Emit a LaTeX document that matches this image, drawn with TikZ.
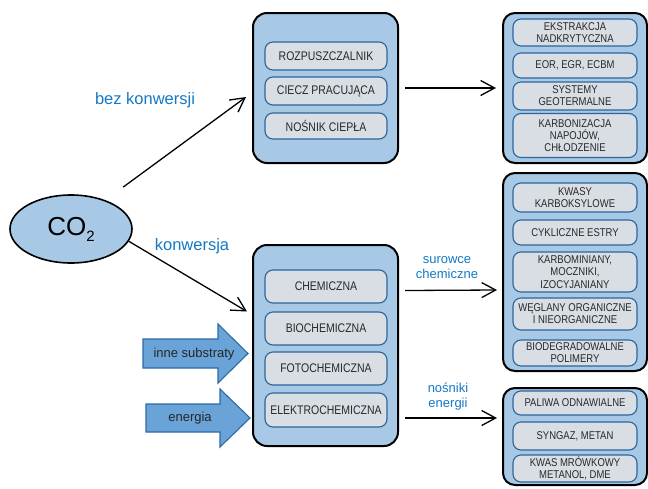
\documentclass[tikz,border=0pt]{standalone}
\usepackage{fontspec}
\setmainfont{Liberation Sans}
\newfontfamily\narrowfont[FakeStretch=0.84]{Liberation Sans}
\usetikzlibrary{arrows.meta,shapes.geometric,calc}
\definecolor{boxblue}{RGB}{167,201,229}
\definecolor{innergray}{RGB}{216,222,228}
\definecolor{innerborder}{RGB}{45,100,155}
\definecolor{txtgray}{RGB}{40,40,40}
\definecolor{lblblue}{RGB}{20,120,195}
\definecolor{arrowfill}{RGB}{105,163,216}
\definecolor{arrowborder}{RGB}{45,105,165}
\begin{document}
\begin{tikzpicture}[x=1pt,y=-1pt,
  outerbox/.style={draw=black, line width=2pt, rounded corners=14pt, fill=boxblue, inner sep=0pt},
  innerbox/.style={draw=innerborder, line width=1.1pt, rounded corners=8pt, fill=innergray, inner sep=0pt,
    text=txtgray, align=center},
  midtxt/.style={font=\narrowfont\fontsize{12.5}{13.5}\selectfont},
  righttxt/.style={font=\narrowfont\fontsize{11.3}{12.2}\selectfont},
  conn/.style={line width=1.3pt, -{Straight Barb[length=14pt,width=15pt,line width=1.3pt]}},
  biglbl/.style={text=lblblue, font=\fontsize{16.5}{18}\selectfont},
  smalllbl/.style={text=lblblue, font=\fontsize{13}{15}\selectfont, align=center},
  blockarrow/.style={draw=arrowborder, line width=1.1pt, fill=arrowfill},
  arrowtxt/.style={text=black!85, font=\fontsize{13}{15}\selectfont}
]
\useasboundingbox (0,0) rectangle (648,488);

% CO2
\node[ellipse, draw=black, line width=1.6pt, fill=boxblue, minimum width=122pt, minimum height=68pt, inner sep=0pt] (co2) at (71,229)
  {\fontsize{26}{26}\selectfont CO\raisebox{-6pt}{\fontsize{15}{15}\selectfont 2}};

% top middle box
\node[outerbox, minimum width=145pt, minimum height=150pt] (topbox) at (325.5,88) {};
\node[innerbox, midtxt, minimum width=122pt, minimum height=28pt] (rozp) at (326,56) {ROZPUSZCZALNIK};
\node[innerbox, midtxt, minimum width=122pt, minimum height=28pt] (ciecz) at (326,91) {CIECZ PRACUJĄCA};
\node[innerbox, midtxt, minimum width=122pt, minimum height=26pt] (nosnik) at (326,126) {NOŚNIK CIEPŁA};

% bottom middle box
\node[outerbox, minimum width=145pt, minimum height=201pt] (botbox) at (325.5,345.5) {};
\node[innerbox, midtxt, minimum width=122pt, minimum height=33pt] (chem) at (326,286.5) {CHEMICZNA};
\node[innerbox, midtxt, minimum width=122pt, minimum height=33pt] (biochem) at (326,328.5) {BIOCHEMICZNA};
\node[innerbox, midtxt, minimum width=122pt, minimum height=33pt] (fotochem) at (326,368.5) {FOTOCHEMICZNA};
\node[innerbox, midtxt, minimum width=122pt, minimum height=34pt] (elektro) at (326,410) {ELEKTROCHEMICZNA};

% top right box
\node[outerbox, rounded corners=12pt, minimum width=144pt, minimum height=150pt] (trbox) at (575,88) {};
\node[innerbox, righttxt, minimum width=124pt, minimum height=27pt] (ekstr) at (575,32.5) {EKSTRAKCJA\\NADKRYTYCZNA};
\node[innerbox, righttxt, minimum width=124pt, minimum height=25pt] (eor) at (575,65.5) {EOR, EGR, ECBM};
\node[innerbox, righttxt, minimum width=124pt, minimum height=28pt] (syst) at (575,96) {SYSTEMY\\GEOTERMALNE};
\node[innerbox, righttxt, minimum width=124pt, minimum height=44pt] (karbon) at (575,135.5) {KARBONIZACJA\\NAPOJÓW,\\CHŁODZENIE};

% middle right box
\node[outerbox, rounded corners=12pt, minimum width=144pt, minimum height=198pt] (mrbox) at (575,272) {};
\node[innerbox, righttxt, minimum width=124pt, minimum height=29pt] (kwasy) at (575,197.5) {KWASY\\KARBOKSYLOWE};
\node[innerbox, righttxt, minimum width=124pt, minimum height=25pt] (cykl) at (575,232.5) {CYKLICZNE ESTRY};
\node[innerbox, righttxt, minimum width=124pt, minimum height=40pt] (karbom) at (575,272) {KARBOMINIANY,\\MOCZNIKI,\\IZOCYJANIANY};
\node[innerbox, righttxt, minimum width=124pt, minimum height=32pt] (wegl) at (575,314) {WĘGLANY ORGANICZNE\\I NIEORGANICZNE};
\node[innerbox, righttxt, minimum width=124pt, minimum height=26pt] (biodeg) at (575,353) {BIODEGRADOWALNE\\POLIMERY};

% bottom right box
\node[outerbox, rounded corners=12pt, minimum width=144pt, minimum height=97pt] (brbox) at (575,436.5) {};
\node[innerbox, righttxt, minimum width=124pt, minimum height=24pt] (paliwa) at (575,403) {PALIWA ODNAWIALNE};
\node[innerbox, righttxt, minimum width=124pt, minimum height=28pt] (syngaz) at (575,436) {SYNGAZ, METAN};
\node[innerbox, righttxt, minimum width=124pt, minimum height=27pt] (kwas) at (575,468.5) {KWAS MRÓWKOWY\\METANOL, DME};

% labels
\node[biglbl] (bez) at (145,100) {bez konwersji};
\node[biglbl] (konw) at (192,246) {konwersja};
\node[smalllbl] (sur) at (447,268) {surowce\\chemiczne};
\node[smalllbl] (nos) at (448,397) {nośniki\\energii};

% connectors
\draw[conn, shorten <=22pt] (co2.40) -- ([xshift=-6pt,yshift=-9pt]topbox.west);
\draw[conn] (co2.-12) -- ([xshift=-5pt,yshift=34pt]botbox.west);
\draw[conn] ([xshift=6pt]topbox.east) -- ([xshift=-6pt]trbox.west);
\draw[conn] ([xshift=6pt,yshift=55pt]botbox.east) -- ([xshift=-5pt,yshift=-18pt]mrbox.west);
\draw[conn] ([xshift=6pt,yshift=-72.5pt]botbox.east) -- ([xshift=-5pt,yshift=18.5pt]brbox.west);

% block arrows
\draw[blockarrow] (143,339) -- (218,339) -- (218,324) -- (248,353.5) -- (218,383) -- (218,368) -- (143,368) -- cycle;
\node[arrowtxt] (inne) at (194,354) {inne substraty};
\draw[blockarrow] (146,404) -- (220,404) -- (220,389) -- (250,418) -- (220,447) -- (220,432) -- (146,432) -- cycle;
\node[arrowtxt] (energia) at (190,418) {energia};
\end{tikzpicture}
\end{document}
